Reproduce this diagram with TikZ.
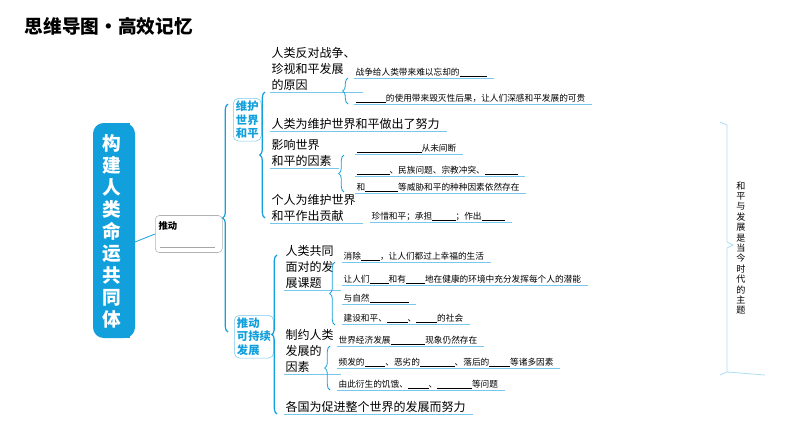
\documentclass[tikz,border=0pt]{standalone}
\usepackage{fontspec}
\setmainfont{Noto Sans CJK SC}
\usetikzlibrary{decorations.pathreplacing}
\definecolor{mapblue}{RGB}{18,160,220}
\definecolor{lineblue}{RGB}{120,200,235}
\newcommand{\blank}[1]{\rule[-1pt]{#1}{0.4pt}}
\tikzset{
  branch/.style={draw=mapblue, line width=0.9pt, decorate, decoration={brace, amplitude=4pt}},
  uline/.style={draw=lineblue, line width=0.6pt},
  head/.style={anchor=south west, inner sep=1pt, align=left, font=\fontsize{9}{12}\selectfont,
    append after command={(\tikzlastnode.south west) edge[uline] ([xshift=4pt]\tikzlastnode.south east)}},
  item/.style={anchor=south west, inner sep=1pt, font=\fontsize{6.5}{8}\selectfont,
    append after command={(\tikzlastnode.south west) edge[uline] ([xshift=4pt]\tikzlastnode.south east)}},
  topic/.style={draw=lineblue, rounded corners=4pt, inner sep=2pt, align=left, text=mapblue,
    font=\bfseries\fontsize{8.5}{10}\selectfont}
}
\begin{document}
\begin{tikzpicture}[x=0.75pt,y=-0.75pt]
  \useasboundingbox (0,0) rectangle (794,447);

  \node[anchor=west, font=\bfseries\fontsize{14}{16}\selectfont] (title) at (20,26) {思维导图·高效记忆};

  % main block
  \fill[mapblue, rounded corners=8pt] (93,123) rectangle (135,338);
  \fill[mapblue] (115,123) rectangle (130,338);
  \node[text=white, align=center, font=\bfseries\fontsize{14}{16.5}\selectfont] (main) at (112,231)
    {构\\建\\人\\类\\命\\运\\共\\同\\体};

  \node[draw=gray!60, rounded corners=3pt, minimum width=67pt*0.75, minimum height=37pt*0.75, anchor=west] (push) at (155,234) {};
  \node[anchor=north west, font=\bfseries\fontsize{7}{8}\selectfont, inner sep=1pt] (pushtxt) at (157,220) {推动};
  \draw[gray!70, line width=0.4pt] (160,247) -- (215,247);
  \draw[mapblue, line width=0.6pt] (135,242) -- (push.west);

  \draw[branch] (228,332) -- (228,104);

  \node[topic, anchor=north west] (peace) at (233,98) {维护\\世界\\和平};
  \node[topic, anchor=north west] (devel) at (234,315) {推动\\可持续\\发展};

  % peace branch
  \draw[branch] (265,218) -- (265,92);
  \node[head] (p1) at (270,92) {人类反对战争、\\珍视和平发展\\的原因};
  \draw[branch, line width=0.6pt] (348,104) -- (348,78);
  \node[item] (p11) at (354,78) {战争给人类带来难以忘却的\blank{3.2em}};
  \node[item] (p12) at (354,104) {\blank{3.5em}的使用带来毁灭性后果，让人们深感和平发展的可贵};
  \node[head] (p2) at (270,131) {人类为维护世界和平做出了努力};
  \node[head] (p3) at (270,168) {影响世界\\和平的因素};
  \draw[branch, line width=0.6pt] (344,192) -- (344,155);
  \node[item] (p31) at (355,154) {\blank{7.5em}从未间断};
  \node[item] (p32) at (355,176) {\blank{3.8em}、民族问题、宗教冲突、\blank{3.8em}};
  \node[item] (p33) at (355,193) {和\blank{3.8em}等威胁和平的种种因素依然存在};
  \node[head] (p4) at (270,223) {个人为维护世界\\和平作出贡献};
  \node[item] (p41) at (370,222) {珍惜和平；承担\blank{2.7em}；作出\blank{2.7em}};

  % development branch
  \draw[branch] (277,414) -- (277,255);
  \node[head] (d1) at (284,290) {人类共同\\面对的发\\展课题};
  \draw[branch, line width=0.6pt] (335,325) -- (335,262);
  \node[item] (d11) at (342,262) {消除\blank{2.2em}，让人们都过上幸福的生活};
  \node[item] (d12) at (342,285) {让人们\blank{2.2em}和有\blank{2.2em}地在健康的环境中充分发挥每个人的潜能};
  \node[item] (d13) at (342,304) {与自然\blank{4.5em}};
  \node[item] (d14) at (342,324) {建设和平、\blank{2.4em}、\blank{2.4em}的社会};
  \node[head] (d2) at (284,374) {制约人类\\发展的\\因素};
  \draw[branch, line width=0.6pt] (330,390) -- (330,346);
  \node[item] (d21) at (337,346) {世界经济发展\blank{4em}现象仍然存在};
  \node[item] (d22) at (337,368) {频发的\blank{2.4em}、恶劣的\blank{4em}、落后的\blank{2.4em}等诸多因素};
  \node[item] (d23) at (337,390) {由此衍生的饥饿、\blank{2.4em}、\blank{4em}等问题};
  \node[head] (d3) at (284,414) {各国为促进整个世界的发展而努力};

  % right side
  \draw[lineblue!60, line width=0.6pt] (720,122) -- (727,125) -- (727,242) -- (733,245) -- (727,248) -- (727,372) -- (720,375);
  \draw[lineblue!60, line width=0.6pt] (727,372) -- (765,375);
  \node[align=center, font=\fontsize{6.8}{7.8}\selectfont] (theme) at (741,248)
    {和\\平\\与\\发\\展\\是\\当\\今\\时\\代\\的\\主\\题};
\end{tikzpicture}
\end{document}
